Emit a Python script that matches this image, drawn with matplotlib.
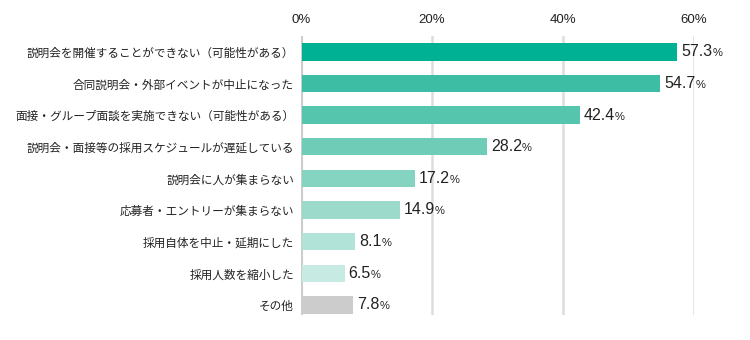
import matplotlib as mpl

mpl.use('Agg')
import matplotlib.pyplot as plt
from matplotlib.offsetbox import AnnotationBbox, HPacker, TextArea

plt.rcParams['font.family'] = ['Noto Sans CJK JP', 'DejaVu Sans']

labels = [
    '説明会を開催することができない（可能性がある）',
    '合同説明会・外部イベントが中止になった',
    '面接・グループ面談を実施できない（可能性がある）',
    '説明会・面接等の採用スケジュールが遅延している',
    '説明会に人が集まらない',
    '応募者・エントリーが集まらない',
    '採用自体を中止・延期にした',
    '採用人数を縮小した',
    'その他',
]
values = [57.3, 54.7, 42.4, 28.2, 17.2, 14.9, 8.1, 6.5, 7.8]
colors = ['#00b194', '#3dbda4', '#55c5ae', '#6fccb7', '#85d3c1',
          '#9cdbcc', '#b2e3d8', '#c7ebe3', '#cccccc']
ticks = [0, 20, 40, 60]

fig = plt.figure(figsize=(7.5, 3.4), dpi=100)
ax = fig.add_axes([0.4013, 0.0735, 0.524, 0.8206])

y = list(range(len(labels)))
ax.barh(y, values, height=0.55, color=colors, left=0.15, zorder=3)

ax.set_xlim(0, 60)
ax.set_ylim(8.32, -0.5)
ax.set_yticks(y)
ax.set_yticklabels(labels, fontsize=8.4, color='#222222')
ax.tick_params(axis='y', length=0, pad=5)

ax.xaxis.tick_top()
ax.set_xticks(ticks)
ax.set_xticklabels([f'{t}%' for t in ticks], fontsize=9.5, color='#222222',
                   family=['Liberation Sans'])
ax.tick_params(axis='x', length=0, pad=7)

for t in ticks[1:]:
    ax.axvline(t, color='#dddddd', lw=1.8, zorder=1)
ax.axvline(0, color='#cccccc', lw=2.2, zorder=2)

for s in ax.spines.values():
    s.set_visible(False)

# value labels: big number with a smaller percent sign
for yi, v in zip(y, values):
    num = TextArea(f'{v:.1f}', textprops=dict(fontsize=11.5, color='#222222',
                                                family=['Liberation Sans']))
    pct = TextArea('%', textprops=dict(fontsize=8, color='#222222',
                                       family=['Liberation Sans']))
    box = HPacker(children=[num, pct], align='baseline', pad=0, sep=0)
    ab = AnnotationBbox(box, (v + 0.15, yi), xybox=(3, 0),
                        xycoords='data', boxcoords='offset points',
                        box_alignment=(0, 0.5), frameon=False,
                        annotation_clip=False)
    ax.add_artist(ab)

fig.savefig('out.png', dpi=100)
